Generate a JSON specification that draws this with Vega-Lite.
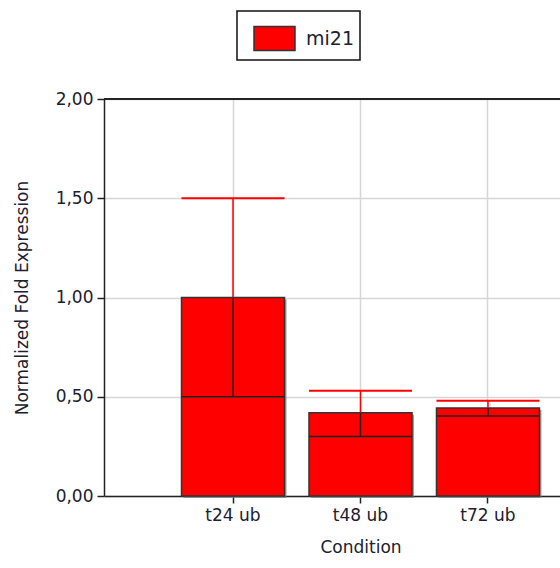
{
  "$schema": "https://vega.github.io/schema/vega-lite/v6.json",
  "autosize": {"type": "none"},
  "padding": {"left": 104, "top": 99, "right": 0, "bottom": 72},
  "width": 456,
  "height": 397,
  "background": "white",
  "config": {
    "view": {"stroke": null},
    "font": "DejaVu Sans",
    "axis": {
      "labelFont": "DejaVu Sans",
      "titleFont": "DejaVu Sans",
      "labelFontSize": 17,
      "titleFontSize": 17,
      "titleFontWeight": "normal",
      "labelColor": "#202030",
      "titleColor": "#202030",
      "domainColor": "#222222",
      "domainWidth": 1.5,
      "tickColor": "#222222",
      "tickWidth": 1.5,
      "tickSize": 7,
      "gridColor": "#d6d6d6",
      "gridWidth": 1.5
    },
    "legend": {
      "labelFont": "DejaVu Sans",
      "labelFontSize": 19,
      "labelColor": "#202030",
      "strokeWidth": 1.5
    }
  },
  "data": {
    "values": [
      {"condition": "t24 ub", "gene": "mi21", "value": 1.0, "lower": 0.5, "upper": 1.5},
      {"condition": "t48 ub", "gene": "mi21", "value": 0.42, "lower": 0.30, "upper": 0.53},
      {"condition": "t72 ub", "gene": "mi21", "value": 0.443, "lower": 0.403, "upper": 0.48}
    ]
  },
  "encoding": {
    "x": {
      "field": "condition",
      "type": "nominal",
      "sort": null,
      "scale": {"range": [0, 513], "paddingInner": 0.192, "paddingOuter": 0.608},
      "axis": {
        "title": "Condition",
        "labelAngle": 0,
        "labelPadding": 4,
        "titlePadding": 16,
        "grid": true,
        "bandPosition": 0.5
      }
    }
  },
  "layer": [
    {
      "mark": {"type": "bar", "fill": "#777777", "opacity": 0.7, "xOffset": 2, "yOffset": 2},
      "encoding": {
        "y": {"field": "value", "type": "quantitative"}
      }
    },
    {
      "mark": {"type": "bar", "stroke": "#333333", "strokeWidth": 1.5},
      "encoding": {
        "y": {
          "field": "value",
          "type": "quantitative",
          "scale": {"domain": [0, 2], "nice": false},
          "axis": {
            "title": "Normalized Fold Expression",
            "values": [0, 0.5, 1, 1.5, 2],
            "labelExpr": "replace(format(datum.value, '.2f'), '.', ',')",
            "labelPadding": 4,
            "titlePadding": 24,
            "grid": true
          }
        },
        "color": {
          "field": "gene",
          "type": "nominal",
          "scale": {"domain": ["mi21"], "range": ["#ff0000"]},
          "legend": {
            "title": null,
            "orient": "none",
            "legendX": 133,
            "legendY": -88,
            "padding": 6,
            "symbolOffset": 10,
            "symbolType": "M-1,-0.585H1V0.585H-1Z",
            "symbolSize": 1681,
            "symbolStrokeColor": "#333333",
            "symbolStrokeWidth": 1.5,
            "labelOffset": 10,
            "fillColor": "white",
            "strokeColor": "#111111",
            "cornerRadius": 0
          }
        }
      }
    },
    {
      "mark": {"type": "rule", "color": "#222222", "strokeWidth": 1.5},
      "encoding": {
        "y": {"field": "lower", "type": "quantitative"},
        "y2": {"field": "value"}
      }
    },
    {
      "mark": {"type": "rule", "color": "#ff0000", "strokeWidth": 1.5},
      "encoding": {
        "y": {"field": "value", "type": "quantitative"},
        "y2": {"field": "upper"}
      }
    },
    {
      "mark": {"type": "tick", "color": "#ff0000", "size": 103, "thickness": 2, "opacity": 1},
      "encoding": {
        "y": {"field": "upper", "type": "quantitative"}
      }
    },
    {
      "mark": {"type": "tick", "color": "#222222", "size": 103, "thickness": 1.5, "opacity": 1},
      "encoding": {
        "y": {"field": "lower", "type": "quantitative"}
      }
    },
    {
      "mark": {"type": "rule", "color": "#222222", "strokeWidth": 1.5},
      "encoding": {
        "x": null,
        "y": {"datum": 2}
      }
    }
  ]
}
